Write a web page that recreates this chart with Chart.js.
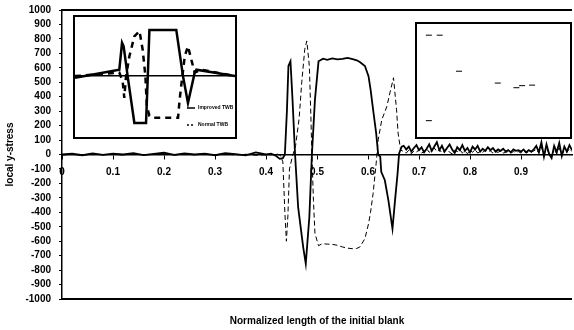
<!DOCTYPE html>
<html>
<head>
<meta charset="utf-8">
<script src="https://cdn.jsdelivr.net/npm/chart.js@4.4.1/dist/chart.umd.min.js"></script>
<style>
  body { margin: 0; background: #fff; }
  #wrap { position: relative; width: 574px; height: 330px; }
  .inset { position: absolute; background: #fff; border: 2px solid #000; box-sizing: border-box; }
</style>
</head>
<body>
<div id="wrap">
  <canvas id="chart"></canvas>
  <div class="inset" style="left:73px;top:15px;width:164px;height:124px"><canvas id="insetL"></canvas></div>
  <div class="inset" style="left:415px;top:22px;width:157px;height:117px"><canvas id="insetR"></canvas></div>
</div>
<script>
// tick labels
const yTicks = [-1000, -900, -800, -700, -600, -500, -400, -300, -200, -100, 0, 100, 200, 300, 400, 500, 600, 700, 800, 900, 1000];
const xTicks = [0, 0.1, 0.2, 0.3, 0.4, 0.5, 0.6, 0.7, 0.8, 0.9];

// flat part before the weld zone (both series)
const preX     = [0, 0.02, 0.04, 0.06, 0.08, 0.10, 0.12, 0.14, 0.16, 0.18, 0.20, 0.22, 0.24, 0.26, 0.28, 0.30, 0.32, 0.34, 0.36, 0.38, 0.40];
const preSolid = [0, 5, -5, 8, -3, 6, 0, 10, -4, 5, 12, -2, 8, 0, 6, -5, 10, 3, -6, 15, 0];
const preDash  = [-3, 2, -6, 4, -2, 3, -4, 5, -3, 2, 6, -4, 3, -2, 5, -6, 4, -3, 2, -5, -2];

// solid series through the zone
const solidX = [0.41, 0.42, 0.427, 0.433, 0.437, 0.441, 0.444, 0.448, 0.452, 0.457, 0.463, 0.473, 0.478, 0.485, 0.490,
                0.496, 0.503, 0.512, 0.52, 0.53, 0.54, 0.55, 0.56, 0.57, 0.578, 0.584, 0.594, 0.601, 0.605, 0.610,
                0.616, 0.620, 0.624, 0.626, 0.633, 0.640, 0.648, 0.653, 0.658, 0.661, 0.666];
const solidY = [5, -10, -30, -25, 0, 300, 612, 645, 380, 0, -364, -642, -755, -433, 0,
                380, 645, 663, 655, 665, 658, 662, 668, 660, 652, 640, 612, 542, 450, 310,
                148, 0, -15, -120, -178, -317, -514, -317, -131, 8, 54];

// dashed series through the zone
const dashX = [0.41, 0.42, 0.428, 0.433, 0.437, 0.440, 0.443, 0.446, 0.452, 0.458, 0.465, 0.470, 0.476, 0.480, 0.485,
               0.488, 0.490, 0.493, 0.496, 0.503, 0.51, 0.52, 0.53, 0.54, 0.55, 0.56, 0.57, 0.578, 0.584, 0.594,
               0.601, 0.605, 0.610, 0.616, 0.620, 0.627, 0.637, 0.643, 0.650, 0.656, 0.659, 0.664];
const dashY = [-2, 5, -5, -50, -400, -600, -420, -100, -10, 60, 250, 496, 728, 786, 612,
               263, 0, -317, -547, -631, -618, -620, -622, -628, -640, -648, -652, -650, -640, -582,
               -480, -400, -270, -61, 101, 240, 333, 427, 531, 310, 148, 31];

// noisy tail after the zone
const tailX = [0.67, 0.675, 0.68, 0.685, 0.69, 0.695, 0.70, 0.705, 0.71, 0.715,
               0.72, 0.725, 0.73, 0.735, 0.74, 0.745, 0.75, 0.755, 0.76, 0.765,
               0.77, 0.775, 0.78, 0.785, 0.79, 0.795, 0.80, 0.805, 0.81, 0.815,
               0.82, 0.825, 0.83, 0.835, 0.84, 0.845, 0.85, 0.855, 0.86, 0.865,
               0.87, 0.875, 0.88, 0.885, 0.89, 0.895, 0.90, 0.905, 0.91, 0.915,
               0.92, 0.925, 0.93, 0.935, 0.94, 0.945, 0.95, 0.955, 0.96, 0.965,
               0.97, 0.975, 0.98, 0.985, 0.99, 0.995, 1.0];
const tailSolid = [60, 35, 55, 20, 45, 65, 30, 50, 15, 40,
                   70, 25, 55, 85, 30, 60, 20, 45, 70, 35,
                   10, 50, 30, 65, 25, 45, 15, 55, 35, 60,
                   20, 40, 25, 50, 30, 45, 20, 35, 25, 40,
                   20, 30, 15, 35, 25, 30, 20, 35, 15, 30,
                   20, 35, 60, 15, 85, -15, 70, 5, -25, 60,
                   15, 80, -10, 55, 20, 65, 30];
const tailDash = [20, 10, 30, 5, 25, 15, 35, 10, 20, 40,
                  15, 30, 45, 20, 35, 10, 25, 40, 15, 5,
                  30, 20, 35, 10, 25, 5, 30, 15, 35, 10,
                  20, 15, 30, 20, 25, 10, 20, 15, 25, 10,
                  15, 20, 10, 20, 15, 20, 10, 25, 10, 20,
                  15, 25, 35, 10, 50, 0, 40, 10, -10, 35,
                  5, 45, 0, 30, 15, 40, 20];

// left inset (schematic of both curves)
const insetSolidX = [0, 0.277, 0.294, 0.304, 0.329, 0.371, 0.444, 0.455, 0.465, 0.633, 0.675, 0.706, 0.748, 0.759, 1];
const insetSolidY = [-0.04, 0.10, 0.56, 0.50, -0.01, -0.81, -0.81, -0.01, 0.78, 0.78, -0.01, -0.47, 0.05, 0.10, -0.01];
const insetDashX = [0, 0.277, 0.298, 0.308, 0.319, 0.34, 0.371, 0.403, 0.423, 0.44, 0.449, 0.465, 0.486, 0.591, 0.644,
                    0.654, 0.671, 0.686, 0.706, 0.727, 0.748, 0.79, 1];
const insetDashY = [-0.01, 0.05, -0.10, -0.38, -0.01, 0.33, 0.67, 0.76, 0.44, -0.01, -0.52, -0.69, -0.72, -0.72, -0.72,
                    -0.41, -0.01, 0.33, 0.50, 0.27, 0.05, 0.10, -0.01];
const insetLabels = ['Improved TWB', 'Normal TWB'];

// right inset (few stray marks)
const markX = [0.048, 0.124, 0.259, 0.53, 0.66, 0.70, 0.77, 0.048];
const markY = [0.94, 0.94, 0.59, 0.475, 0.43, 0.45, 0.455, 0.11];

function toPoints(xs, ys) {
    return xs.map((x, i) => ({ x: x, y: ys[i] }));
}

const solidData = toPoints(preX.concat(solidX, tailX), preSolid.concat(solidY, tailSolid));
const dashData = toPoints(preX.concat(dashX, tailX), preDash.concat(dashY, tailDash));

const FONT = "'Liberation Sans', Arial, sans-serif";

// frame lines on top and bottom of the plot area
const frame = {
    id: 'frame',
    afterDraw(chart) {
        const a = chart.chartArea, ctx = chart.ctx;
        ctx.save();
        ctx.strokeStyle = '#000';
        ctx.lineWidth = 2;
        ctx.beginPath();
        ctx.moveTo(a.left, a.top); ctx.lineTo(a.right, a.top);
        ctx.moveTo(a.left, a.bottom); ctx.lineTo(a.right, a.bottom);
        ctx.stroke();
        ctx.restore();
    }
};

new Chart(document.getElementById('chart'), {
    type: 'line',
    data: {
        datasets: [
            { label: 'solid', data: solidData, borderColor: '#000', borderWidth: 1.8, pointRadius: 0, tension: 0 },
            { label: 'dashed', data: dashData, borderColor: '#000', borderWidth: 1, borderDash: [5, 3], pointRadius: 0, tension: 0 }
        ]
    },
    options: {
        responsive: true,
        maintainAspectRatio: false,
        animation: false,
        events: [],
        layout: { padding: { top: 10, right: 2, left: 0, bottom: 0 } },
        plugins: {
            legend: { display: false },
            tooltip: { enabled: false },
            title: {
                display: true,
                position: 'bottom',
                fullSize: false,
                text: 'Normalized length of the initial blank',
                color: '#000',
                font: { family: FONT, size: 10, weight: 'bold' },
                padding: { top: 16, bottom: 3 }
            }
        },
        scales: {
            x: {
                type: 'linear',
                position: { y: 0 },
                min: 0,
                max: 1,
                afterBuildTicks: s => { s.ticks = xTicks.map(v => ({ value: v })); },
                afterFit: s => { s.height = 1; },
                ticks: {
                    autoSkip: false,
                    color: '#000',
                    font: { family: FONT, size: 10, weight: 'bold' },
                    padding: 8,
                    maxRotation: 0,
                    callback: v => String(Math.round(v * 10) / 10)
                },
                grid: { drawOnChartArea: false, color: '#000', tickLength: 4 },
                border: { color: '#000', width: 1.5 }
            },
            y: {
                min: -1000,
                max: 1000,
                afterBuildTicks: s => { s.ticks = yTicks.map(v => ({ value: v })); },
                afterFit: s => { s.width = 62; s.paddingTop = 0; s.paddingBottom = 0; },
                ticks: {
                    autoSkip: false,
                    color: '#000',
                    font: { family: FONT, size: 10, weight: 'bold' },
                    padding: 8,
                    callback: v => String(v)
                },
                grid: { drawOnChartArea: false, color: '#000', tickLength: 3 },
                border: { color: '#000', width: 1.5 },
                title: {
                    display: true,
                    text: 'local y-stress',
                    color: '#000',
                    font: { family: FONT, size: 10, weight: 'bold' },
                    padding: { top: 4, bottom: 0 }
                }
            }
        }
    },
    plugins: [frame]
});

// legend drawn inside the left inset, lower right
const insetLegend = {
    id: 'insetLegend',
    afterDraw(chart) {
        const ctx = chart.ctx;
        ctx.save();
        ctx.font = 'bold 5px ' + FONT;
        ctx.fillStyle = '#000';
        ctx.textBaseline = 'middle';
        chart.data.datasets.forEach((ds, i) => {
            const y = 91 + i * 17, x = 112;
            ctx.strokeStyle = '#000';
            ctx.lineWidth = 1.5;
            ctx.setLineDash(ds.borderDash ? [2, 2] : []);
            ctx.beginPath();
            ctx.moveTo(x, y); ctx.lineTo(x + 8, y);
            ctx.stroke();
            ctx.fillText(ds.label, x + 11, y);
        });
        ctx.restore();
    }
};

new Chart(document.getElementById('insetL'), {
    type: 'line',
    data: {
        datasets: [
            { label: insetLabels[0], data: toPoints(insetSolidX, insetSolidY), borderColor: '#000', borderWidth: 2.5, pointRadius: 0, tension: 0 },
            { label: insetLabels[1], data: toPoints(insetDashX, insetDashY), borderColor: '#000', borderWidth: 2.5, borderDash: [6, 5], pointRadius: 0, tension: 0 }
        ]
    },
    options: {
        responsive: true,
        maintainAspectRatio: false,
        animation: false,
        events: [],
        layout: { padding: 0 },
        plugins: { legend: { display: false }, tooltip: { enabled: false } },
        scales: {
            x: {
                type: 'linear', min: 0, max: 1, position: { y: 0 },
                ticks: { display: false },
                grid: { display: false },
                border: { color: '#000', width: 1.5 }
            },
            y: { min: -1.05, max: 1, display: false }
        }
    },
    plugins: [insetLegend]
});

new Chart(document.getElementById('insetR'), {
    type: 'scatter',
    data: {
        datasets: [
            { data: toPoints(markX, markY), pointStyle: 'line', pointRadius: 3, borderColor: '#000', borderWidth: 1 }
        ]
    },
    options: {
        responsive: true,
        maintainAspectRatio: false,
        animation: false,
        events: [],
        plugins: { legend: { display: false }, tooltip: { enabled: false } },
        scales: {
            x: { min: 0, max: 1, display: false },
            y: { min: 0, max: 1, display: false }
        }
    }
});
</script>
</body>
</html>
